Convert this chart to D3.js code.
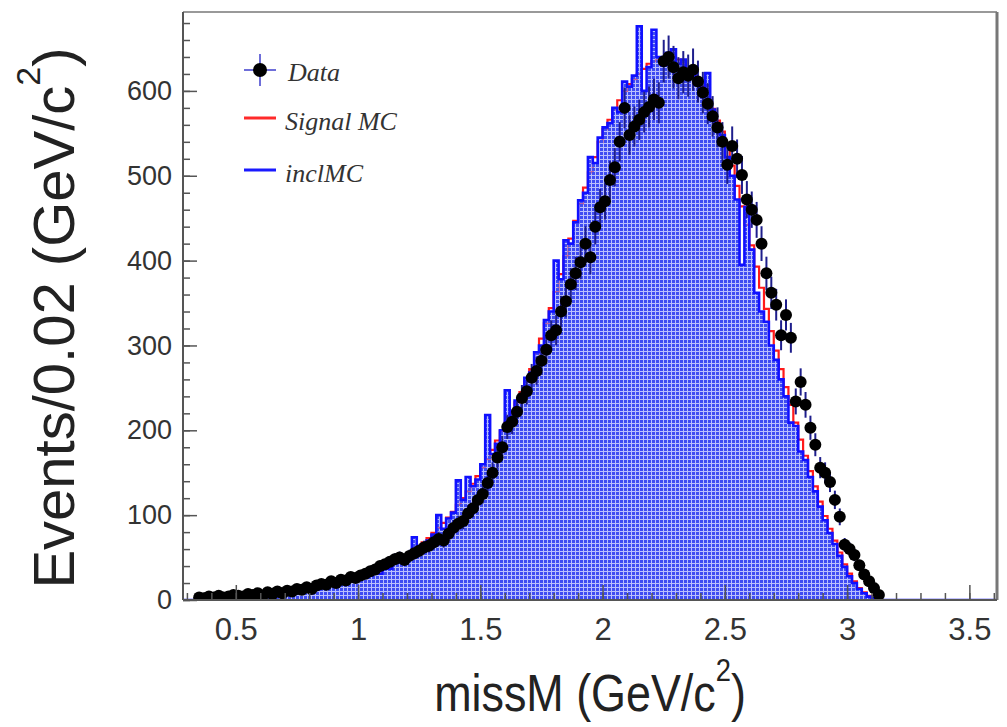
<!DOCTYPE html>
<html>
<head>
<meta charset="utf-8">
<script src="https://cdn.jsdelivr.net/npm/d3@7"></script>
<style>
  body { margin: 0; background: #fff; }
  svg { display: block; }
</style>
</head>
<body>
<div id="chart"></div>
<script>
// histogram bins: width 0.02, first bin starts at 0.34
const binStart = 0.34;
const binWidth = 0.02;

const inclMC = [1,
  1,2,1,3,2,3,2,4,3,4,
  5,4,6,5,7,6,8,9,8,11,
  10,12,13,12,16,15,18,17,21,20,
  23,25,32,27,29,33,31,38,37,45,
  44,52,51,74,60,66,70,77,100,84,
  96,103,141,118,145,134,142,160,218,172,
  184,200,247,215,235,240,262,268,292,300,
  330,340,400,378,424,420,445,471,480,522,
  515,545,557,562,580,575,611,605,618,676,
  600,628,672,640,630,645,649,632,637,625,
  628,610,600,621,578,560,548,522,500,472,
  395,463,413,362,340,328,300,283,260,240,
  209,205,175,165,145,128,110,94,79,66,
  52,39,28,20,13,8,4,2,0];

const signalMC = [1,
  1,2,2,2,3,3,3,3,4,4,
  5,5,5,6,7,7,8,9,9,10,
  11,12,13,14,15,16,17,19,20,22,
  23,24,26,28,30,32,34,37,40,43,
  45,49,53,58,63,68,73,79,85,91,
  97,104,112,120,128,137,146,156,166,177,
  188,199,210,221,233,245,257,272,290,308,
  326,344,363,384,405,426,447,467,486,504,
  522,540,555,566,578,589,600,608,614,620,
  626,632,635,637,638,639,640,637,632,626,
  620,615,605,592,579,565,552,535,512,488,
  464,442,418,393,368,343,317,294,272,251,
  230,209,189,170,152,134,116,99,84,70,
  56,42,31,22,14,9,5,2,0];

const dataCounts = [3,
  2,4,3,5,3,4,6,5,4,7,
  6,8,5,9,7,10,8,11,10,13,
  12,15,13,17,19,18,22,20,24,23,
  27,26,29,31,34,36,40,42,45,48,
  50,47,52,55,58,62,64,68,72,70,
  78,85,90,93,102,108,118,125,138,150,
  168,180,204,210,222,238,246,262,270,282,
  295,312,318,340,352,372,385,398,420,404,
  440,463,470,495,510,540,580,548,558,566,
  575,581,590,586,635,640,628,615,622,618,
  625,611,598,585,570,557,540,513,535,520,
  501,472,460,448,420,385,362,348,312,336,
  309,234,257,230,203,183,156,150,139,118,
  98,65,60,53,41,30,22,14,6];

const xTicks = [0.5, 1, 1.5, 2, 2.5, 3, 3.5];
const yTicks = [0, 100, 200, 300, 400, 500, 600];
const legendLabels = ["Data", "Signal MC", "inclMC"];

let width = 1007;
let height = 727;
let plot = ({left: 183, right: 997, top: 12, bottom: 600});

const svg = d3.select("#chart").append("svg")
    .attr("width", width)
    .attr("height", height);

let x = d3.scaleLinear()
    .domain([0.284, 3.613])
    .range([plot.left, plot.right]);

let y = d3.scaleLinear()
    .domain([0, 693])
    .range([plot.bottom, plot.top]);

// fill pattern (root style dots with light gaps)
const defs = svg.append("defs");
const pat = defs.append("pattern")
    .attr("id", "hatch")
    .attr("patternUnits", "userSpaceOnUse")
    .attr("width", 4)
    .attr("height", 4);
pat.append("rect").attr("width", 4).attr("height", 4)
    .attr("fill", "#8c95fb").attr("fill-opacity", 0.6);
pat.append("rect").attr("width", 3).attr("height", 3)
    .attr("fill", "#3f4cf2");

defs.append("clipPath").attr("id", "clip")
  .append("rect")
    .attr("x", plot.left).attr("y", plot.top)
    .attr("width", plot.right - plot.left)
    .attr("height", plot.bottom - plot.top);

// turn counts into step points over the full axis range
let steps = counts => {
    let pts = [{e: x.domain()[0], v: 0}];
    counts.forEach((v, i) => pts.push({e: binStart + i * binWidth, v: v}));
    pts.push({e: binStart + counts.length * binWidth, v: 0});
    pts.push({e: x.domain()[1], v: 0});
    return pts;
}

let stepLine = d3.line()
    .x(d => x(d.e))
    .y(d => y(d.v))
    .curve(d3.curveStepAfter);

let stepArea = d3.area()
    .x(d => x(d.e))
    .y0(y(0))
    .y1(d => y(d.v))
    .curve(d3.curveStepAfter);

const g = svg.append("g").attr("clip-path", "url(#clip)");

// signal MC underneath
g.append("path")
    .attr("d", stepLine(steps(signalMC)))
    .attr("fill", "none")
    .attr("stroke", "#ff1a1a")
    .attr("stroke-width", 2.2);

// inclusive MC filled
g.append("path")
    .attr("d", stepArea(steps(inclMC)))
    .attr("fill", "url(#hatch)");

g.append("path")
    .attr("d", stepLine(steps(inclMC)))
    .attr("fill", "none")
    .attr("stroke", "#1010ff")
    .attr("stroke-width", 2.6);

// data points with error bars
let pts = dataCounts.map((v, i) => ({c: binStart + (i + 0.5) * binWidth, v: v}))
    .filter(d => d.v > 0);

const dg = g.append("g");
dg.selectAll("line.ey")
    .data(pts)
    .join("line")
    .attr("class", "ey")
    .attr("x1", d => x(d.c)).attr("x2", d => x(d.c))
    .attr("y1", d => y(d.v - Math.sqrt(d.v)))
    .attr("y2", d => y(d.v + Math.sqrt(d.v)))
    .attr("stroke", "#1e1e8c")
    .attr("stroke-width", 2);

dg.selectAll("line.ex")
    .data(pts)
    .join("line")
    .attr("class", "ex")
    .attr("x1", d => x(d.c - binWidth / 2)).attr("x2", d => x(d.c + binWidth / 2))
    .attr("y1", d => y(d.v)).attr("y2", d => y(d.v))
    .attr("stroke", "#1e1e8c")
    .attr("stroke-width", 2);

dg.selectAll("circle")
    .data(pts)
    .join("circle")
    .attr("cx", d => x(d.c))
    .attr("cy", d => y(d.v))
    .attr("r", 6)
    .attr("fill", "#000");

// axes
let styleAxis = sel => {
    sel.select(".domain").remove();
    sel.selectAll(".tick line").attr("stroke", "#555").attr("stroke-width", 1.5);
    sel.selectAll("text")
        .style("font-family", "'Liberation Sans', Arial, sans-serif")
        .attr("fill", "#333");
}

svg.append("g")
    .attr("transform", `translate(${plot.left},0)`)
    .call(d3.axisLeft(y).tickValues(d3.range(0, 693, 20)).tickSize(-7).tickFormat(""))
    .call(styleAxis);

svg.append("g")
    .attr("transform", `translate(${plot.left},0)`)
    .call(d3.axisLeft(y).tickValues(yTicks).tickSize(-14).tickPadding(11).tickFormat(d3.format("d")))
    .call(styleAxis)
    .selectAll("text").style("font-size", "27px");

svg.append("g")
    .attr("transform", `translate(0,${plot.bottom})`)
    .call(d3.axisBottom(x).tickValues(d3.range(3, 37).map(d => d / 10)).tickSize(-7).tickFormat(""))
    .call(styleAxis);

svg.append("g")
    .attr("transform", `translate(0,${plot.bottom})`)
    .call(d3.axisBottom(x).tickValues(xTicks).tickSize(-15).tickPadding(18).tickFormat(d => d))
    .call(styleAxis)
    .selectAll("text").style("font-size", "31px");

// frame
svg.append("line").attr("x1", plot.left).attr("x2", plot.right)
    .attr("y1", plot.top).attr("y2", plot.top)
    .attr("stroke", "#999").attr("stroke-width", 2);
svg.append("line").attr("x1", plot.right).attr("x2", plot.right)
    .attr("y1", plot.top).attr("y2", plot.bottom)
    .attr("stroke", "#777").attr("stroke-width", 3);
svg.append("line").attr("x1", plot.left).attr("x2", plot.left)
    .attr("y1", plot.top).attr("y2", plot.bottom)
    .attr("stroke", "#555").attr("stroke-width", 2);
svg.append("line").attr("x1", plot.left).attr("x2", plot.right)
    .attr("y1", plot.bottom).attr("y2", plot.bottom)
    .attr("stroke", "#555").attr("stroke-width", 2);

// axis titles
const xt = svg.append("text")
    .attr("transform", "translate(590,711) scale(0.88,1)")
    .attr("text-anchor", "middle")
    .style("font-family", "'Liberation Sans', Arial, sans-serif")
    .style("font-size", "51px")
    .attr("fill", "#222");
xt.append("tspan").text("missM (GeV/c");
xt.append("tspan").attr("dy", -30).style("font-size", "31px").text("2");
xt.append("tspan").attr("dy", 30).text(")");

const yt = svg.append("text")
    .attr("transform", "translate(74,318) rotate(-90)")
    .attr("text-anchor", "middle")
    .style("font-family", "'Liberation Sans', Arial, sans-serif")
    .style("font-size", "58px")
    .attr("fill", "#222");
yt.append("tspan").text("Events/0.02 (GeV/c");
yt.append("tspan").attr("dy", -34).style("font-size", "34px").text("2");
yt.append("tspan").attr("dy", 34).text(")");

// legend
const leg = svg.append("g")
    .style("font-family", "'Liberation Serif', 'Times New Roman', serif")
    .style("font-style", "italic")
    .style("font-size", "26px");

leg.append("line").attr("x1", 244).attr("x2", 276).attr("y1", 70).attr("y2", 70)
    .attr("stroke", "#4a4ad0").attr("stroke-width", 1.6);
leg.append("line").attr("x1", 260).attr("x2", 260).attr("y1", 54).attr("y2", 86)
    .attr("stroke", "#4a4ad0").attr("stroke-width", 1.6);
leg.append("circle").attr("cx", 260).attr("cy", 70).attr("r", 7).attr("fill", "#000");
leg.append("line").attr("x1", 244).attr("x2", 276).attr("y1", 118).attr("y2", 118)
    .attr("stroke", "#ff2a2a").attr("stroke-width", 3);
leg.append("line").attr("x1", 244).attr("x2", 276).attr("y1", 170).attr("y2", 170)
    .attr("stroke", "#1a1aff").attr("stroke-width", 3);

leg.selectAll("text")
    .data(legendLabels)
    .join("text")
    .attr("x", (d, i) => i == 0 ? 288 : 285)
    .attr("y", (d, i) => [81, 130, 182][i])
    .attr("fill", "#333")
    .text(d => d);
</script>
</body>
</html>
